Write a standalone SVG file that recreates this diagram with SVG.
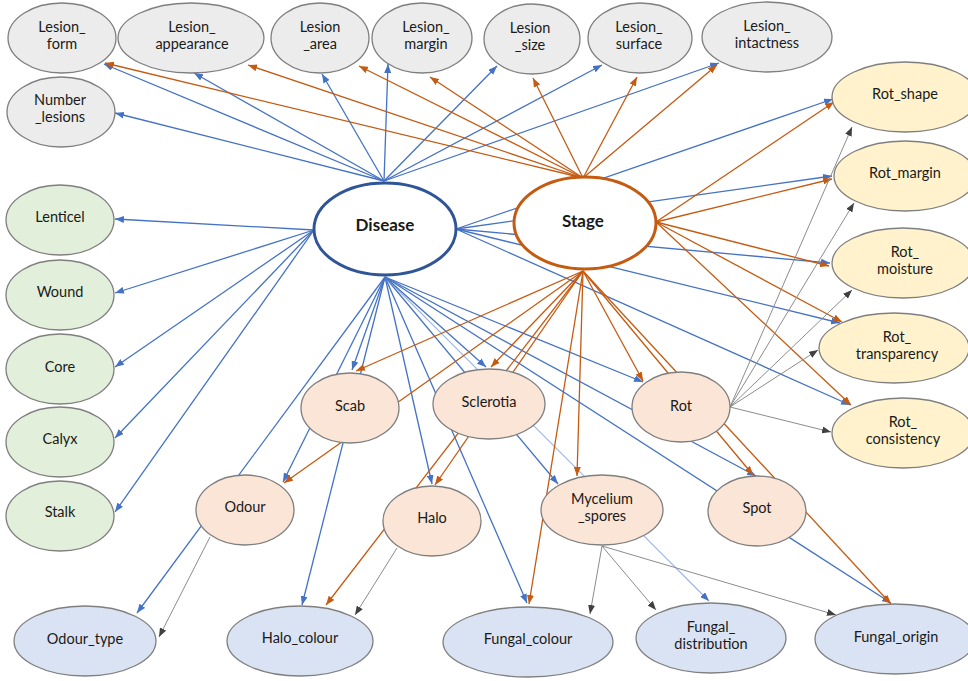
<svg xmlns="http://www.w3.org/2000/svg" width="968" height="681" viewBox="0 0 968 681">
<defs>
<marker id="ab" markerUnits="userSpaceOnUse" markerWidth="9" markerHeight="7" refX="9" refY="3.5" orient="auto"><path d="M0,0 L9,3.5 L0,7 z" fill="#4472c4"/></marker>
<marker id="ao" markerUnits="userSpaceOnUse" markerWidth="9" markerHeight="7" refX="9" refY="3.5" orient="auto"><path d="M0,0 L9,3.5 L0,7 z" fill="#c55a11"/></marker>
<marker id="ag" markerUnits="userSpaceOnUse" markerWidth="9" markerHeight="7" refX="9" refY="3.5" orient="auto"><path d="M0,0 L9,3.5 L0,7 z" fill="#404040"/></marker>
<marker id="al" markerUnits="userSpaceOnUse" markerWidth="9" markerHeight="7" refX="9" refY="3.5" orient="auto"><path d="M0,0 L9,3.5 L0,7 z" fill="#4472c4"/></marker>
</defs>
<style>
.b{stroke:#4472c4;stroke-width:1.3;fill:none;marker-end:url(#ab)}
.l{stroke:#9db4e0;stroke-width:1.1;fill:none;marker-end:url(#al)}
.o{stroke:#c55a11;stroke-width:1.3;fill:none;marker-end:url(#ao)}
.g{stroke:#8c8c8c;stroke-width:1;fill:none;marker-end:url(#ag)}
.n ellipse{stroke:#7f7f7f;stroke-width:1.3}
.gr ellipse{fill:#ececec}
.gn ellipse{fill:#e2efda}
.ye ellipse{fill:#fff2cc}
.pk ellipse{fill:#fbe5d6}
.bl ellipse{fill:#dae3f3}
text{font-family:Lato,"Noto Sans",sans-serif;font-size:14.5px;fill:#1a1a1a;text-anchor:middle}
.hub text{font-weight:bold;font-size:17px}
</style>
<rect width="968" height="681" fill="#ffffff"/>
<g id="connectors">
<line class="b" x1="384" y1="181" x2="104" y2="64"/>
<line class="b" x1="384" y1="181" x2="194" y2="73"/>
<line class="b" x1="384" y1="181" x2="322" y2="74"/>
<line class="b" x1="384" y1="181" x2="388" y2="64"/>
<line class="b" x1="384" y1="181" x2="497" y2="66"/>
<line class="b" x1="384" y1="181" x2="602" y2="65"/>
<line class="b" x1="384" y1="181" x2="719" y2="63"/>
<line class="b" x1="384" y1="181" x2="115" y2="113"/>
<line class="b" x1="314" y1="230" x2="115" y2="219"/>
<line class="b" x1="314" y1="230" x2="115" y2="293"/>
<line class="b" x1="314" y1="230" x2="115" y2="367"/>
<line class="b" x1="314" y1="230" x2="115" y2="438"/>
<line class="b" x1="314" y1="230" x2="115" y2="512"/>
<line class="b" x1="456" y1="229" x2="833" y2="99"/>
<line class="b" x1="456" y1="229" x2="832" y2="176"/>
<line class="b" x1="456" y1="229" x2="830" y2="263"/>
<line class="b" x1="456" y1="229" x2="840" y2="323"/>
<line class="b" x1="456" y1="229" x2="850" y2="405"/>
<line class="b" x1="385" y1="277" x2="137" y2="613"/>
<line class="b" x1="385" y1="277" x2="283" y2="482"/>
<line class="b" x1="385" y1="277" x2="352" y2="370"/>
<line class="b" x1="385" y1="277" x2="302" y2="605"/>
<line class="b" x1="385" y1="277" x2="432" y2="484"/>
<line class="b" x1="385" y1="277" x2="527" y2="603"/>
<line class="b" x1="385" y1="277" x2="558" y2="484"/>
<line class="l" x1="385" y1="277" x2="709" y2="601"/>
<line class="b" x1="385" y1="277" x2="486" y2="367"/>
<line class="b" x1="385" y1="277" x2="643" y2="382"/>
<line class="b" x1="385" y1="277" x2="756" y2="476"/>
<line class="b" x1="385" y1="277" x2="891" y2="603"/>
<line class="o" x1="583" y1="178" x2="105" y2="63"/>
<line class="o" x1="583" y1="178" x2="248" y2="65"/>
<line class="o" x1="583" y1="178" x2="359" y2="66"/>
<line class="o" x1="583" y1="178" x2="430" y2="77"/>
<line class="o" x1="583" y1="178" x2="533" y2="78"/>
<line class="o" x1="583" y1="178" x2="637" y2="77"/>
<line class="o" x1="583" y1="178" x2="717" y2="65"/>
<line class="o" x1="656" y1="222" x2="834" y2="102"/>
<line class="o" x1="656" y1="222" x2="832" y2="179"/>
<line class="o" x1="656" y1="222" x2="829" y2="266"/>
<line class="o" x1="656" y1="222" x2="842" y2="322"/>
<line class="o" x1="656" y1="222" x2="851" y2="405"/>
<line class="o" x1="583" y1="271" x2="356" y2="371"/>
<line class="o" x1="583" y1="271" x2="284" y2="483"/>
<line class="o" x1="583" y1="271" x2="491" y2="367"/>
<line class="o" x1="583" y1="271" x2="435" y2="485"/>
<line class="o" x1="583" y1="271" x2="326" y2="605"/>
<line class="o" x1="583" y1="271" x2="529" y2="604"/>
<line class="o" x1="583" y1="271" x2="577" y2="476"/>
<line class="o" x1="583" y1="271" x2="643" y2="381"/>
<line class="o" x1="583" y1="271" x2="753" y2="475"/>
<line class="o" x1="583" y1="271" x2="891" y2="604"/>
<line class="g" x1="730" y1="407" x2="852" y2="127"/>
<line class="g" x1="730" y1="407" x2="854" y2="203"/>
<line class="g" x1="730" y1="407" x2="852" y2="290"/>
<line class="g" x1="730" y1="407" x2="818" y2="350"/>
<line class="g" x1="730" y1="407" x2="831" y2="432"/>
<line class="g" x1="602" y1="546" x2="590" y2="614"/>
<line class="g" x1="602" y1="546" x2="656" y2="610"/>
<line class="g" x1="602" y1="546" x2="836" y2="615"/>
<line class="g" x1="210" y1="537" x2="159" y2="637"/>
<line class="g" x1="397" y1="548" x2="355" y2="615"/>
</g>
<g id="Lesion_form" class="n gr"><ellipse cx="62" cy="38" rx="54" ry="35"/><text x="62" y="32">Lesion_</text><text x="62" y="49">form</text></g>
<g id="Lesion_appearance" class="n gr"><ellipse cx="191" cy="38" rx="73" ry="35"/><text x="192" y="32">Lesion_</text><text x="192" y="49">appearance</text></g>
<g id="Lesion_area" class="n gr"><ellipse cx="320" cy="38" rx="49" ry="35"/><text x="320" y="32">Lesion</text><text x="320" y="49">_area</text></g>
<g id="Lesion_margin" class="n gr"><ellipse cx="422" cy="38" rx="50" ry="35"/><text x="426" y="32">Lesion_</text><text x="426" y="49">margin</text></g>
<g id="Lesion_size" class="n gr"><ellipse cx="532" cy="39" rx="48" ry="35"/><text x="530" y="33">Lesion</text><text x="530" y="50">_size</text></g>
<g id="Lesion_surface" class="n gr"><ellipse cx="640" cy="38" rx="52" ry="35"/><text x="639" y="32">Lesion_</text><text x="639" y="49">surface</text></g>
<g id="Lesion_intactness" class="n gr"><ellipse cx="767" cy="37" rx="65" ry="35"/><text x="767" y="31">Lesion_</text><text x="767" y="48">intactness</text></g>
<g id="Number_lesions" class="n gr"><ellipse cx="61" cy="112" rx="54" ry="35"/><text x="60" y="105">Number</text><text x="60" y="122">_lesions</text></g>
<g id="Lenticel" class="n gn"><ellipse cx="60" cy="220" rx="54" ry="35"/><text x="60" y="222">Lenticel</text></g>
<g id="Wound" class="n gn"><ellipse cx="60" cy="295" rx="54" ry="35"/><text x="60" y="297">Wound</text></g>
<g id="Core" class="n gn"><ellipse cx="60" cy="369" rx="54" ry="35"/><text x="60" y="372">Core</text></g>
<g id="Calyx" class="n gn"><ellipse cx="60" cy="442" rx="54" ry="35"/><text x="60" y="444">Calyx</text></g>
<g id="Stalk" class="n gn"><ellipse cx="60" cy="516" rx="54" ry="35"/><text x="60" y="517">Stalk</text></g>
<g id="Disease" class="hub"><ellipse cx="385" cy="229" rx="71" ry="46" fill="#ffffff" stroke="#2f5597" stroke-width="3"/><text x="385" y="231">Disease</text></g>
<g id="Stage" class="hub"><ellipse cx="585" cy="223" rx="71" ry="46" fill="#ffffff" stroke="#c55a11" stroke-width="3"/><text x="583" y="227">Stage</text></g>
<g id="Rot_shape" class="n ye"><ellipse cx="905" cy="97" rx="73" ry="35"/><text x="905" y="99">Rot_shape</text></g>
<g id="Rot_margin" class="n ye"><ellipse cx="905" cy="176" rx="71" ry="35"/><text x="905" y="178">Rot_margin</text></g>
<g id="Rot_moisture" class="n ye"><ellipse cx="903" cy="263" rx="71" ry="35"/><text x="905" y="257">Rot_</text><text x="905" y="274">moisture</text></g>
<g id="Rot_transparency" class="n ye"><ellipse cx="894" cy="348" rx="75" ry="35"/><text x="897" y="342">Rot_</text><text x="897" y="359">transparency</text></g>
<g id="Rot_consistency" class="n ye"><ellipse cx="903" cy="433" rx="71" ry="35"/><text x="903" y="427">Rot_</text><text x="903" y="444">consistency</text></g>
<g id="Scab" class="n pk"><ellipse cx="350" cy="408" rx="49" ry="35"/><text x="350" y="411">Scab</text></g>
<g id="Sclerotia" class="n pk"><ellipse cx="489" cy="404" rx="56" ry="35"/><text x="489" y="407">Sclerotia</text></g>
<g id="Rot" class="n pk"><ellipse cx="681" cy="407" rx="49" ry="35"/><text x="681" y="411">Rot</text></g>
<g id="Odour" class="n pk"><ellipse cx="245" cy="510" rx="49" ry="35"/><text x="245" y="512">Odour</text></g>
<g id="Halo" class="n pk"><ellipse cx="432" cy="521" rx="49" ry="35"/><text x="432" y="523">Halo</text></g>
<g id="Mycelium_spores" class="n pk"><ellipse cx="602" cy="510" rx="61" ry="35"/><text x="602" y="504">Mycelium</text><text x="602" y="521">_spores</text></g>
<g id="Spot" class="n pk"><ellipse cx="757" cy="511" rx="49" ry="35"/><text x="757" y="513">Spot</text></g>
<g id="Odour_type" class="n bl"><ellipse cx="85" cy="641" rx="71" ry="35"/><text x="85" y="644">Odour_type</text></g>
<g id="Halo_colour" class="n bl"><ellipse cx="300" cy="641" rx="73" ry="35"/><text x="300" y="643">Halo_colour</text></g>
<g id="Fungal_colour" class="n bl"><ellipse cx="528" cy="642" rx="85" ry="35"/><text x="528" y="644">Fungal_colour</text></g>
<g id="Fungal_distribution" class="n bl"><ellipse cx="711" cy="638" rx="75" ry="35"/><text x="711" y="632">Fungal_</text><text x="711" y="649">distribution</text></g>
<g id="Fungal_origin" class="n bl"><ellipse cx="895" cy="639" rx="80" ry="35"/><text x="896" y="642">Fungal_origin</text></g>
</svg>
